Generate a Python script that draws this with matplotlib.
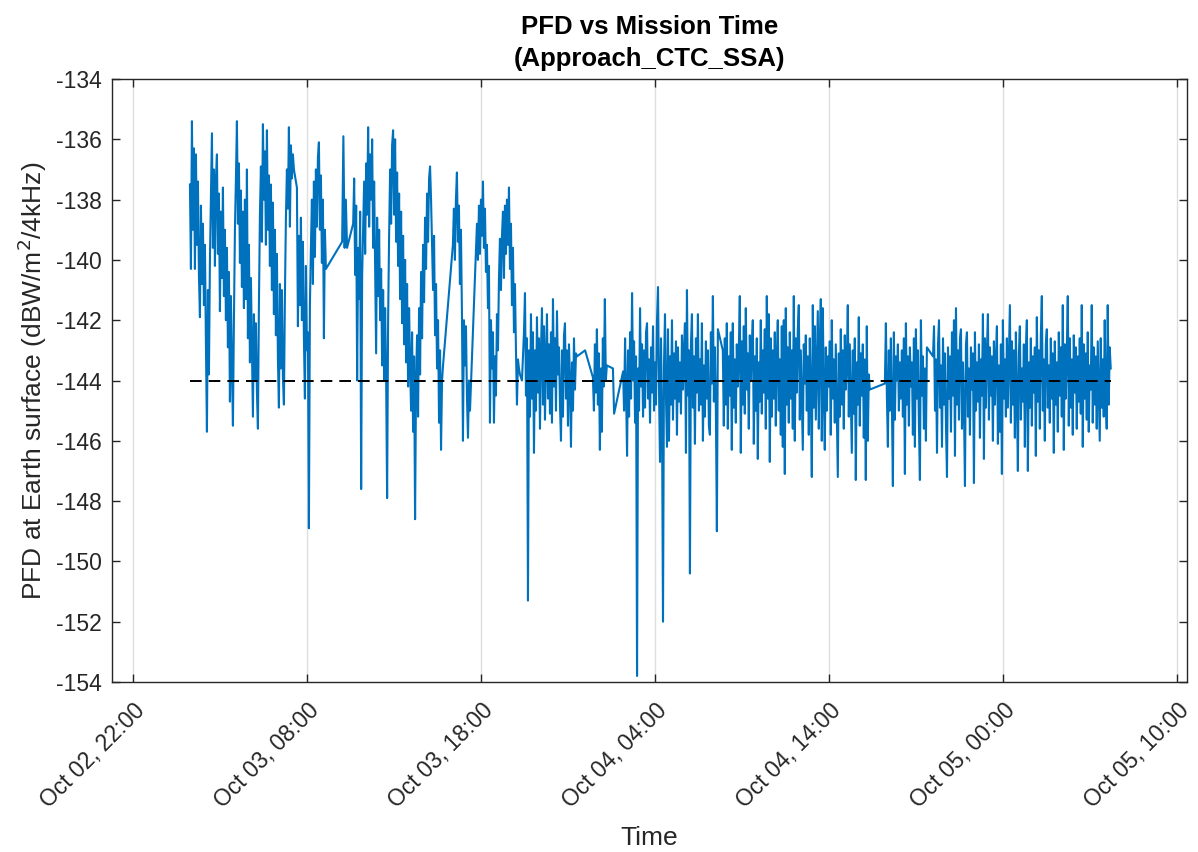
import numpy as np
import pandas as pd
import matplotlib
matplotlib.use('Agg')
import matplotlib.pyplot as plt
import matplotlib.dates as mdates

plt.rcParams['font.family'] = ['Liberation Sans', 'DejaVu Sans']
plt.rcParams['axes.unicode_minus'] = False

# ==================================
#        PFD samples (dBW/m^2/4kHz)
# ==================================
# each pass is sampled evenly between its start and end time
seg_start = ['2023-10-03 01:15', '2023-10-03 10:00', '2023-10-03 10:38', '2023-10-03 16:22',
             '2023-10-03 17:45', '2023-10-03 23:58', '2023-10-04 00:25', '2023-10-04 01:34',
             '2023-10-04 02:09', '2023-10-04 07:53', '2023-10-04 17:12', '2023-10-04 19:58']
seg_end = ['2023-10-03 09:04', '2023-10-03 10:17', '2023-10-03 15:48', '2023-10-03 17:21',
           '2023-10-03 23:30', '2023-10-03 23:58', '2023-10-04 01:13', '2023-10-04 01:38',
           '2023-10-04 07:36', '2023-10-04 16:20', '2023-10-04 19:37', '2023-10-05 06:11']

pfd_s1 = [-137.5, -140.3, -135.4, -139.0, -136.3, -140.3, -136.5, -139.5, -137.4, -140.5,
          -141.9, -138.2, -140.8, -138.8, -141.5, -139.5, -142.8, -145.7, -141.0, -143.8,
          -140.0, -138.0, -135.8, -139.6, -137.0, -140.2, -137.3, -136.5, -139.8, -137.8,
          -141.7, -138.4, -140.6, -137.6, -141.2, -139.0, -142.0, -139.6, -142.9, -140.4,
          -144.7, -141.2, -143.5, -145.5, -142.0, -139.0, -137.3, -135.4, -138.8, -136.8,
          -140.1, -137.7, -140.9, -138.4, -141.6, -138.0, -141.3, -137.0, -142.6, -139.5,
          -143.4, -140.6, -143.0, -145.2, -141.8, -144.0, -142.1, -144.4, -145.6, -141.5,
          -138.5, -136.9, -139.4, -135.5, -138.0, -136.4, -139.5, -135.7, -139.0, -137.2,
          -140.2, -137.5, -141.0, -138.1, -141.8, -139.0, -142.5, -139.8, -143.3, -144.9,
          -140.8, -143.6, -141.0, -143.9, -144.8, -141.2, -138.6, -137.0, -138.3, -135.6,
          -138.9, -136.2, -137.3, -136.5, -137.0, -137.2, -137.4, -137.6, -142.2, -139.2,
          -141.5, -138.6, -142.0, -139.4, -142.6, -144.6, -140.2, -143.0, -142.4, -148.9,
          -141.5, -139.6, -138.0, -140.8, -137.4, -139.9, -137.0, -138.9, -136.6, -136.1,
          -139.0, -137.2, -140.1, -138.0, -142.6, -139.0, -140.3]
pfd_s2 = [-139.4, -135.9, -139.6, -138.0, -139.6]
pfd_s3 = [-138.8, -137.3, -140.5, -138.2, -144.0, -139.6, -141.3, -138.4, -147.6, -140.5,
          -139.0, -137.4, -139.8, -136.8, -138.5, -135.6, -138.9, -136.5, -138.0, -136.0,
          -139.6, -137.4, -140.4, -143.1, -138.6, -141.2, -139.0, -142.0, -140.3, -143.5,
          -141.0, -144.0, -141.6, -143.8, -147.9, -142.0, -139.2, -137.0, -138.8, -136.2,
          -135.7, -138.5, -136.0, -139.4, -137.1, -140.2, -137.8, -141.3, -138.4, -142.1,
          -139.2, -142.8, -140.0, -143.4, -140.8, -144.2, -141.6, -143.5, -145.0, -142.4,
          -145.7, -143.2, -148.6, -144.0, -142.5, -145.2, -141.6, -143.8, -140.4, -142.6,
          -139.5, -141.4, -138.6, -140.3, -137.8, -139.4, -137.3, -136.9, -138.0, -139.5,
          -141.0, -139.2, -142.5, -140.8, -143.6, -142.0, -145.4, -143.0, -146.3, -144.0,
          -143.5]
pfd_s4 = [-139.5, -138.3, -140.0, -138.0, -137.1, -139.4, -138.2, -140.8, -139.0, -141.8,
          -146.0, -142.0, -143.5, -142.2, -144.6, -145.9, -144.0, -145.0]
pfd_s5 = [-138.8, -140.0, -138.2, -139.8, -138.0, -139.2, -137.4, -139.6, -138.3, -140.4,
          -139.5, -141.6, -140.2, -145.4, -142.0, -143.6, -142.4, -145.4, -143.2, -144.5,
          -141.8, -143.0, -140.6, -139.3, -141.0, -139.2, -138.4, -140.6, -138.2, -139.8,
          -138.0, -139.5, -137.6, -140.3, -138.8, -141.5, -139.6, -142.4, -140.8, -143.0,
          -144.8, -143.3, -143.6, -143.8, -143.9, -144.0, -143.2, -142.4, -141.1, -144.5,
          -142.6, -151.3, -143.0, -145.2, -141.8, -144.6, -142.4, -146.4, -143.0, -145.0,
          -141.9, -144.4, -142.6, -145.6, -143.0, -141.6, -144.8, -142.2, -145.3, -143.2,
          -141.8, -144.6, -142.8, -145.1, -142.4, -145.4, -141.3, -144.2, -142.6, -145.0,
          -141.7, -143.8, -142.9, -144.8, -146.0, -143.0, -145.2, -142.5, -142.1, -144.6,
          -143.0, -145.5, -142.8, -144.0, -146.2, -143.4, -145.0, -142.6, -144.3, -143.1,
          -143.2]
pfd_s6 = [-143.0]
pfd_s7 = [-143.9, -145.0, -142.8, -144.4, -142.3, -144.8, -143.1, -146.3, -143.6, -145.7,
          -142.6, -144.2, -141.3, -144.0, -143.5]
pfd_s8 = [-143.6, -145.1]
pfd_s9 = [-143.7, -145.0, -142.6, -144.4, -146.5, -143.0, -145.2, -142.4, -144.6, -141.1,
          -144.0, -142.7, -145.4, -143.2, -153.8, -143.6, -145.0, -141.6, -144.2, -142.8,
          -145.2, -143.0, -144.9, -142.4, -142.1, -144.6, -143.3, -145.4, -142.9, -144.4,
          -142.2, -145.0, -143.4, -144.8, -142.0, -140.9, -144.3, -146.7, -142.6, -145.1,
          -152.0, -143.5, -141.8, -144.6, -146.2, -142.3, -146.0, -143.2, -144.8, -142.0,
          -145.3, -143.1, -144.6, -142.7, -145.8, -142.9, -144.7, -143.4, -145.1, -142.5,
          -144.3, -143.0, -142.1, -146.4, -141.0, -144.5, -143.0, -150.4, -142.8, -141.8,
          -144.9, -143.2, -146.1, -142.6, -144.4, -141.8, -145.0, -143.3, -144.8, -142.1,
          -146.0, -143.5, -145.2, -142.7, -144.6, -143.0, -145.5, -145.8, -142.4, -144.1,
          -141.2, -144.7, -142.9, -145.0, -149.0, -142.3]
pfd_s10 = [-143.0, -145.5, -142.6, -144.8, -142.1, -145.6, -143.2, -144.5, -142.4, -146.3,
           -142.1, -144.9, -143.3, -145.4, -142.8, -144.2, -143.0, -141.2, -146.4, -142.7,
           -144.8, -142.2, -145.1, -141.6, -144.3, -143.1, -145.6, -142.5, -144.0, -142.9,
           -142.0, -146.1, -143.2, -145.0, -142.6, -146.6, -143.4, -144.7, -142.0, -145.1,
           -143.0, -144.4, -142.3, -145.6, -141.2, -144.6, -141.8, -146.7, -142.6, -145.2,
           -143.0, -144.6, -142.4, -145.5, -143.2, -142.0, -145.0, -143.3, -145.8, -142.2,
           -146.2, -142.0, -147.1, -141.6, -144.8, -142.9, -145.4, -142.4, -144.6, -143.0,
           -145.6, -141.2, -146.0, -142.6, -144.4, -142.3, -141.5, -145.3, -143.0, -144.7,
           -146.3, -142.8, -144.1, -142.5, -145.0, -143.2, -145.8, -142.6, -144.4, -147.2,
           -141.5, -144.9, -142.2, -145.3, -143.4, -141.7, -145.6, -142.8, -141.3, -146.0,
           -141.6, -144.5, -146.3, -142.9, -145.0, -143.2, -144.2, -142.7, -145.8, -142.0,
           -144.6, -143.3, -145.4, -142.8, -144.9, -147.2, -143.1, -145.2, -142.3, -144.8,
           -143.0, -145.6, -142.5, -144.3, -143.4, -141.5, -145.2, -142.8, -144.6, -146.4,
           -143.0, -145.1, -142.6, -147.3, -143.4, -144.8, -141.9, -145.5, -143.1, -144.5,
           -142.8, -145.9, -143.3, -147.3, -142.2, -146.0, -143.8, -144.3]
pfd_s11 = [-144.1, -142.1, -144.5, -146.2, -143.0, -145.0, -142.6, -144.8, -147.5, -142.4,
           -145.3, -143.2, -144.0, -142.8, -145.0, -143.4, -144.6, -143.0, -145.2, -142.6,
           -147.1, -142.1, -144.8, -143.2, -145.5, -142.9, -144.2, -143.4, -145.8, -142.6,
           -146.2, -142.3, -144.6, -143.0, -145.4, -147.3, -142.0, -144.5, -143.2, -145.6,
           -143.6, -146.0, -142.9]
pfd_s12 = [-143.2, -142.2, -145.0, -143.3, -146.4, -142.8, -142.0, -144.9, -143.5, -146.2,
           -142.6, -144.8, -143.1, -145.5, -147.2, -142.9, -144.6, -143.2, -145.7, -142.4,
           -144.5, -142.0, -146.5, -141.6, -144.8, -143.0, -145.3, -142.6, -142.3, -145.6,
           -143.4, -144.9, -147.5, -142.8, -142.4, -145.2, -143.6, -145.8, -142.9, -144.3,
           -143.1, -147.4, -142.4, -145.0, -143.4, -144.7, -142.8, -145.9, -143.3, -144.5,
           -141.8, -146.6, -142.6, -144.9, -143.0, -141.8, -145.3, -142.9, -144.5, -143.2,
           -146.0, -142.7, -144.8, -143.3, -142.2, -146.1, -143.5, -145.7, -142.8, -147.1,
           -142.0, -144.6, -143.3, -145.2, -142.6, -144.9, -143.2, -141.5, -145.4, -142.7,
           -144.8, -143.0, -145.9, -142.4, -144.5, -147.0, -143.1, -142.2, -145.3, -143.6,
           -144.7, -142.8, -146.2, -143.0, -142.0, -147.0, -143.4, -144.9, -142.6, -145.5,
           -143.2, -144.4, -142.9, -146.5, -141.9, -144.7, -143.0, -145.6, -142.5, -141.2,
           -145.0, -143.3, -146.0, -142.8, -142.3, -144.9, -143.5, -145.4, -142.6, -144.6,
           -143.1, -146.4, -142.7, -144.8, -143.4, -145.7, -142.4, -144.5, -142.9, -145.2,
           -141.5, -146.3, -142.8, -144.6, -143.0, -141.2, -145.5, -142.6, -144.9, -143.3,
           -145.8, -142.5, -144.4, -142.9, -145.6, -143.2, -144.7, -142.6, -145.1, -141.5,
           -146.2, -142.8, -144.6, -143.1, -145.3, -142.4, -145.7, -143.5, -144.3, -141.5,
           -145.4, -142.9, -144.8, -143.2, -145.6, -142.7, -144.4, -146.0, -142.6, -144.9,
           -143.3, -145.2, -142.0, -144.6, -145.6, -141.5, -144.8, -142.9, -143.6]

pfd_limit = -144.0
tick_times = ['2023-10-02 22:00', '2023-10-03 08:00', '2023-10-03 18:00', '2023-10-04 04:00',
              '2023-10-04 14:00', '2023-10-05 00:00', '2023-10-05 10:00']
x_limits = ['2023-10-02 20:45', '2023-10-05 10:34']
y_ticks = np.arange(-154, -133, 2)

# Building the time axis
segments = [pfd_s1, pfd_s2, pfd_s3, pfd_s4, pfd_s5, pfd_s6,
            pfd_s7, pfd_s8, pfd_s9, pfd_s10, pfd_s11, pfd_s12]
times = []
pfd = []
for start, end, vals in zip(seg_start, seg_end, segments):
    times.extend(pd.date_range(start, end, periods=len(vals)))
    pfd.extend(vals)
times = pd.DatetimeIndex(times)

# Plotting graph
axis_col = '#262626'
fig = plt.figure(figsize=(11.98, 8.52), dpi=100)
ax = fig.add_axes([0.0932, 0.1995, 0.8976, 0.7078])

ax.plot(times, pfd, color='#0072BD', linewidth=1.5)
ax.plot([times[0], times[-1]], [pfd_limit, pfd_limit], color='black',
        linewidth=1.4, dashes=(6.0, 3.6))

ax.set_xlim(pd.Timestamp(x_limits[0]), pd.Timestamp(x_limits[1]))
ax.set_ylim(-154, -134)
ax.set_yticks(y_ticks)
ax.set_xticks(pd.to_datetime(tick_times))
ax.xaxis.set_major_formatter(mdates.DateFormatter('%b %d, %H:%M'))
ax.grid(axis='x', color='#dedede', linewidth=1.0)
ax.set_axisbelow(True)

ax.tick_params(direction='in', top=True, right=True, length=6, width=1.0,
               colors=axis_col, labelsize=16.5)
ax.tick_params(axis='x', pad=12)
ax.tick_params(axis='y', pad=7)
plt.setp(ax.get_xticklabels(), rotation=45, ha='right', rotation_mode='anchor')
for sp in ax.spines.values():
    sp.set_color(axis_col)
    sp.set_linewidth(1.0)

ax.set_title('PFD vs Mission Time\n(Approach_CTC_SSA)', fontsize=18.5, fontweight='bold',
             color='black', pad=9.5, linespacing=1.43)
ax.set_ylabel('PFD at Earth surface (dBW/m$^2$/4kHz)', fontsize=19, color=axis_col, labelpad=5)
ax.set_xlabel('Time', fontsize=19, color=axis_col, labelpad=10)

fig.savefig('out.png', dpi=100)
